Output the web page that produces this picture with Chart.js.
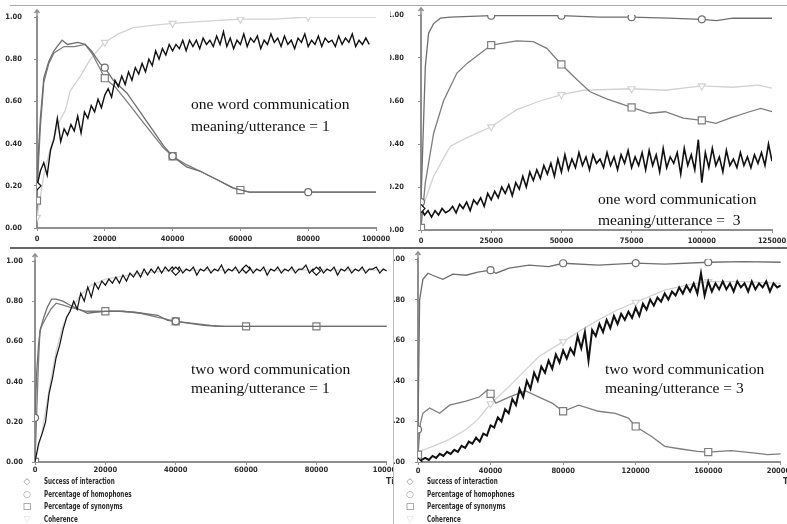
<!DOCTYPE html>
<html lang="en">
<head>
<meta charset="UTF-8">
<title>Lexicon simulation runs</title>
<script src="https://cdn.jsdelivr.net/npm/chart.js"></script>
<style>
    body { margin: 0; width: 787px; height: 524px; overflow: hidden; background: #fff; position: relative; }
    canvas { position: absolute; }
    .note { position: absolute; font-family: 'Liberation Serif', 'Times New Roman', serif; font-size: 15.5px; line-height: 16px; color: #111; white-space: pre; }
    .legend { position: absolute; font-family: 'Liberation Sans Narrow', 'DejaVu Sans Condensed', sans-serif; font-weight: bold; font-size: 8.5px; color: #2a2a2a; }
    .legend div { height: 12.5px; line-height: 12.5px; white-space: nowrap; }
    .legend .sym { display: inline-block; width: 14px; text-align: center; font-family: 'DejaVu Sans', sans-serif; font-weight: normal; font-size: 9px; margin-right: 9.5px; }
    .legend .txt { display: inline-block; transform: scaleX(0.74); transform-origin: left center; }
    .rule { position: absolute; }
    .time { position: absolute; overflow: hidden; font-family: 'Liberation Sans Narrow', 'DejaVu Sans Condensed', sans-serif; font-weight: bold; font-size: 8.5px; color: #333; white-space: nowrap; }
</style>
</head>
<body>
    <!-- panel rules -->
    <div class="rule" style="left:10px; top:5px; width:777px; height:1px; background:#aaa;"></div>
    <div class="rule" style="left:10px; top:247px; width:777px; height:2px; background:#666;"></div>
    <div class="rule" style="left:393px; top:249px; width:1px; height:275px; background:#bbb;"></div>

    <canvas id="tl" width="392" height="242" style="left:0px; top:6px;"></canvas>
    <canvas id="tr" width="397" height="242" style="left:390px; top:6px;"></canvas>
    <canvas id="bl" width="393" height="274" style="left:0px; top:250px;"></canvas>
    <canvas id="br" width="393" height="274" style="left:394px; top:250px;"></canvas>

    <div class="note" style="left:191px; top:96px;">one word communication</div>
    <div class="note" style="left:191px; top:118px;">meaning/utterance = 1</div>
    <div class="note" style="left:598px; top:191px;">one word communication</div>
    <div class="note" style="left:598px; top:212px;">meaning/utterance =  3</div>
    <div class="note" style="left:191px; top:361px;">two word communication</div>
    <div class="note" style="left:191px; top:380px;">meaning/utterance = 1</div>
    <div class="note" style="left:605px; top:361px;">two word communication</div>
    <div class="note" style="left:605px; top:380px;">meaning/utterance = 3</div>

    <div class="legend" style="left:20px; top:475px;">
        <div><span class="sym" style="color:#888">◇</span><span class="txt">Success of interaction</span></div>
        <div><span class="sym" style="color:#999">○</span><span class="txt">Percentage of homophones</span></div>
        <div><span class="sym" style="color:#666">□</span><span class="txt">Percentage of synonyms</span></div>
        <div><span class="sym" style="color:#ddd">▽</span><span class="txt">Coherence</span></div>
    </div>
    <div class="legend" style="left:403px; top:475px;">
        <div><span class="sym" style="color:#888">◇</span><span class="txt">Success of interaction</span></div>
        <div><span class="sym" style="color:#999">○</span><span class="txt">Percentage of homophones</span></div>
        <div><span class="sym" style="color:#666">□</span><span class="txt">Percentage of synonyms</span></div>
        <div><span class="sym" style="color:#ddd">▽</span><span class="txt">Coherence</span></div>
    </div>
    <div class="time" style="left:386px; top:476px; width:7px;">Time</div>
    <div class="time" style="left:783px; top:476px; width:4px;">Time</div>

<script>
// ---- one word, meaning/utterance = 1 (top left) ----
const tlSuccessStep = 1000;
const tlSuccess = [
    0.20, 0.27, 0.31, 0.25, 0.37, 0.42, 0.52, 0.41, 0.47, 0.44,
    0.49, 0.46, 0.53, 0.45, 0.55, 0.52, 0.58, 0.55, 0.61, 0.57,
    0.63, 0.66, 0.62, 0.70, 0.67, 0.72, 0.68, 0.74, 0.70, 0.76,
    0.73, 0.78, 0.74, 0.80, 0.77, 0.84, 0.80, 0.85, 0.82, 0.87,
    0.84, 0.87, 0.85, 0.89, 0.84, 0.89, 0.86, 0.89, 0.85, 0.90,
    0.87, 0.89, 0.86, 0.91, 0.87, 0.93, 0.86, 0.90, 0.85, 0.89,
    0.87, 0.92, 0.86, 0.90, 0.88, 0.91, 0.85, 0.89, 0.87, 0.92,
    0.88, 0.90, 0.86, 0.91, 0.87, 0.89, 0.85, 0.90, 0.88, 0.92,
    0.86, 0.89, 0.87, 0.91, 0.86, 0.90, 0.88, 0.89, 0.86, 0.91,
    0.87, 0.90, 0.88, 0.92, 0.86, 0.89, 0.87, 0.90, 0.87
];
const tlHomX = [0, 500, 1000, 2000, 3500, 5000, 7400, 9000, 12000, 14200, 16000, 18600, 20000, 22500, 26500, 30400, 34300, 37300, 40000, 44100, 48000, 53000, 57800, 60300, 62700, 80000, 100000];
const tlHomY = [0.21, 0.38, 0.52, 0.71, 0.79, 0.84, 0.89, 0.87, 0.88, 0.87, 0.84, 0.78, 0.76, 0.70, 0.64, 0.55, 0.46, 0.39, 0.34, 0.29, 0.27, 0.23, 0.19, 0.18, 0.17, 0.17, 0.17];
const tlSynX = [0, 500, 1000, 2000, 3500, 5000, 8000, 11000, 14200, 16500, 20000, 23000, 26500, 30400, 34300, 37300, 40000, 44100, 48000, 53000, 57800, 60000, 62700, 80000, 100000];
const tlSynY = [0.13, 0.33, 0.48, 0.69, 0.78, 0.83, 0.86, 0.86, 0.87, 0.82, 0.71, 0.67, 0.60, 0.52, 0.44, 0.38, 0.34, 0.30, 0.27, 0.23, 0.19, 0.18, 0.17, 0.17, 0.17];
const tlCohX = [0, 1000, 2000, 3500, 5000, 6500, 8400, 9800, 12800, 15700, 20000, 24000, 28400, 34000, 40000, 50000, 60000, 70000, 80000, 100000];
const tlCohY = [0.05, 0.15, 0.25, 0.35, 0.43, 0.50, 0.56, 0.65, 0.72, 0.80, 0.88, 0.92, 0.95, 0.96, 0.97, 0.98, 0.99, 0.99, 1.00, 1.00];

// ---- one word, meaning/utterance = 3 (top right) ----
const trSuccessStep = 1250;
const trSuccess = [
    0.10, 0.07, 0.09, 0.06, 0.09, 0.07, 0.10, 0.08, 0.09, 0.11,
    0.08, 0.12, 0.10, 0.13, 0.09, 0.14, 0.12, 0.15, 0.11, 0.17,
    0.14, 0.18, 0.15, 0.20, 0.17, 0.21, 0.16, 0.22, 0.19, 0.25,
    0.20, 0.27, 0.23, 0.28, 0.24, 0.30, 0.26, 0.31, 0.25, 0.33,
    0.27, 0.35, 0.28, 0.33, 0.29, 0.36, 0.30, 0.34, 0.28, 0.35,
    0.31, 0.33, 0.29, 0.36, 0.30, 0.34, 0.28, 0.35, 0.31, 0.37,
    0.29, 0.34, 0.30, 0.36, 0.28, 0.37, 0.30, 0.35, 0.27, 0.38,
    0.29, 0.34, 0.31, 0.36, 0.26, 0.38, 0.30, 0.35, 0.28, 0.42,
    0.22, 0.36, 0.29, 0.38, 0.30, 0.34, 0.27, 0.37, 0.30, 0.33,
    0.29, 0.36, 0.30, 0.34, 0.29, 0.35, 0.31, 0.36, 0.30, 0.40,
    0.32
];
const trHomX = [0, 1540, 2700, 4500, 6900, 10400, 25000, 50000, 63700, 75000, 88000, 100000, 105200, 111000, 125000];
const trHomY = [0.13, 0.76, 0.915, 0.96, 0.985, 0.99, 0.997, 0.997, 0.99, 0.99, 0.985, 0.98, 0.974, 0.985, 0.985];
const trSynX = [0, 1540, 4500, 8000, 12800, 16400, 25000, 34100, 40000, 44800, 50000, 55500, 60200, 66100, 75000, 81500, 87000, 93400, 100000, 105000, 110000, 117000, 121000, 125000];
const trSynY = [0.01, 0.22, 0.45, 0.60, 0.73, 0.775, 0.86, 0.88, 0.876, 0.845, 0.77, 0.70, 0.643, 0.61, 0.57, 0.543, 0.55, 0.52, 0.51, 0.496, 0.52, 0.55, 0.566, 0.55];
const trCohX = [0, 4500, 10400, 16400, 25000, 34100, 42400, 50000, 57800, 75000, 87000, 100000, 111000, 120000, 125000];
const trCohY = [0.085, 0.25, 0.39, 0.43, 0.48, 0.56, 0.60, 0.63, 0.65, 0.657, 0.65, 0.67, 0.664, 0.674, 0.66];

// ---- two word, meaning/utterance = 1 (bottom left) ----
const blSuccessStep = 1000;
const blSuccess = [
    0.00, 0.09, 0.14, 0.20, 0.34, 0.42, 0.52, 0.58, 0.66, 0.72,
    0.75, 0.80, 0.76, 0.84, 0.80, 0.87, 0.82, 0.89, 0.86, 0.90,
    0.88, 0.91, 0.89, 0.92, 0.89, 0.93, 0.90, 0.94, 0.92, 0.95,
    0.92, 0.96, 0.93, 0.96, 0.94, 0.97, 0.94, 0.97, 0.95, 0.97,
    0.95, 0.97, 0.94, 0.96, 0.95, 0.97, 0.93, 0.96, 0.95, 0.97,
    0.94, 0.96, 0.95, 0.98, 0.94, 0.96, 0.95, 0.97, 0.94, 0.96,
    0.96, 0.97, 0.94, 0.96, 0.95, 0.97, 0.93, 0.96, 0.95, 0.97,
    0.94, 0.96, 0.95, 0.97, 0.94, 0.96, 0.96, 0.98, 0.94, 0.96,
    0.95, 0.97, 0.94, 0.96, 0.95, 0.97, 0.93, 0.96, 0.95, 0.97,
    0.94, 0.96, 0.95, 0.97, 0.94, 0.96, 0.96, 0.97, 0.94, 0.96,
    0.95
];
const blHomX = [0, 500, 1000, 1500, 2500, 3500, 4700, 6000, 7900, 10000, 12500, 14900, 17000, 20000, 24000, 28400, 34900, 37700, 40000, 44000, 48000, 52000, 60000, 80000, 100000];
const blHomY = [0.22, 0.45, 0.58, 0.66, 0.72, 0.77, 0.81, 0.81, 0.80, 0.78, 0.76, 0.74, 0.745, 0.75, 0.75, 0.745, 0.73, 0.705, 0.70, 0.69, 0.68, 0.675, 0.675, 0.675, 0.675];
const blSynX = [0, 500, 1000, 1400, 2000, 3200, 4500, 6000, 8000, 9800, 12000, 14400, 17000, 20000, 25000, 30000, 35000, 40000, 45000, 50000, 54000, 60000, 80000, 100000];
const blSynY = [0.00, 0.25, 0.50, 0.65, 0.68, 0.72, 0.76, 0.79, 0.78, 0.77, 0.76, 0.75, 0.75, 0.75, 0.75, 0.74, 0.72, 0.70, 0.69, 0.68, 0.675, 0.675, 0.675, 0.675];
const blCohX = [0, 2000, 4000, 6000, 8000, 10000, 13000, 16000, 20000, 30000, 40000, 60000, 80000, 100000];
const blCohY = [0.00, 0.15, 0.36, 0.55, 0.68, 0.76, 0.83, 0.88, 0.91, 0.94, 0.955, 0.955, 0.955, 0.955];

// ---- two word, meaning/utterance = 3 (bottom right) ----
const brSuccessStep = 2000;
const brSuccess = [
    0.00, 0.01, 0.02, 0.01, 0.03, 0.02, 0.04, 0.03, 0.05, 0.04,
    0.06, 0.05, 0.08, 0.07, 0.10, 0.09, 0.12, 0.10, 0.14, 0.13,
    0.18, 0.17, 0.22, 0.20, 0.26, 0.24, 0.31, 0.28, 0.36, 0.32,
    0.40, 0.36, 0.44, 0.40, 0.47, 0.44, 0.50, 0.46, 0.53, 0.49,
    0.55, 0.51, 0.56, 0.53, 0.62, 0.56, 0.64, 0.50, 0.65, 0.62,
    0.68, 0.64, 0.70, 0.66, 0.72, 0.68, 0.73, 0.70, 0.74, 0.71,
    0.76, 0.72, 0.78, 0.75, 0.80, 0.77, 0.81, 0.79, 0.83, 0.80,
    0.84, 0.82, 0.86, 0.83, 0.87, 0.84, 0.88, 0.83, 0.93, 0.82,
    0.89, 0.84, 0.88, 0.85, 0.89, 0.85, 0.88, 0.84, 0.89, 0.86,
    0.88, 0.84, 0.89, 0.85, 0.88, 0.86, 0.89, 0.84, 0.88, 0.86,
    0.87
];
const brHomX = [0, 900, 2700, 5500, 8000, 13700, 19200, 26500, 33000, 40000, 43000, 50200, 61200, 72100, 80000, 99500, 120000, 136000, 160000, 180000, 200000];
const brHomY = [0.16, 0.80, 0.90, 0.93, 0.92, 0.90, 0.925, 0.92, 0.935, 0.945, 0.93, 0.955, 0.97, 0.962, 0.979, 0.97, 0.98, 0.975, 0.984, 0.987, 0.984];
const brSynX = [0, 1300, 2700, 6400, 11900, 17400, 26500, 33800, 38400, 40000, 42900, 50200, 59400, 66700, 74000, 80000, 88600, 99500, 108700, 116000, 120000, 128800, 136000, 145000, 154000, 160000, 172600, 186000, 192700, 200000];
const brSynY = [0.036, 0.19, 0.24, 0.266, 0.24, 0.28, 0.30, 0.32, 0.356, 0.336, 0.29, 0.32, 0.35, 0.32, 0.29, 0.25, 0.28, 0.25, 0.24, 0.216, 0.175, 0.126, 0.077, 0.064, 0.052, 0.049, 0.056, 0.044, 0.036, 0.04];
const brCohX = [0, 8200, 17000, 26500, 33000, 40000, 50000, 60000, 66700, 80000, 90000, 99500, 110000, 120000, 136000, 150000, 160000, 180000, 200000];
const brCohY = [0.05, 0.077, 0.11, 0.16, 0.21, 0.287, 0.37, 0.46, 0.52, 0.593, 0.65, 0.70, 0.75, 0.787, 0.847, 0.875, 0.889, 0.889, 0.88];

const tickFont = { family: "'Liberation Sans Narrow', 'DejaVu Sans Condensed', sans-serif", size: 7.5, weight: 'bold' };
const axisGray = '#8f8f8f';

function pts(xs, ys) { return xs.map((x, i) => ({ x: x, y: ys[i] })); }
function stepPts(step, ys) { return ys.map((y, i) => ({ x: i * step, y: y })); }

function series(points, color, width, style, radius, marks, rot) {
    return {
        data: points,
        borderColor: color,
        borderWidth: width,
        backgroundColor: color,
        pointStyle: style,
        pointRotation: rot || 0,
        pointRadius: ctx => (ctx.raw && marks.includes(ctx.raw.x)) ? radius : 0,
        pointBorderColor: color,
        pointBackgroundColor: '#fff',
        pointBorderWidth: 1.2,
        pointHoverRadius: 0,
        tension: 0,
        fill: false
    };
}

// small arrow on top of the y axis
const axisArrow = {
    id: 'axisArrow',
    afterDraw(chart) {
        const ctx = chart.ctx, a = chart.chartArea;
        ctx.save();
        ctx.strokeStyle = axisGray;
        ctx.lineWidth = 1.5;
        ctx.beginPath();
        ctx.moveTo(a.left, a.top);
        ctx.lineTo(a.left, a.top - 7);
        ctx.moveTo(a.left - 2.5, a.top - 4);
        ctx.lineTo(a.left, a.top - 7);
        ctx.lineTo(a.left + 2.5, a.top - 4);
        ctx.stroke();
        ctx.restore();
    }
};

function panel(id, p) {
    new Chart(document.getElementById(id), {
        type: 'line',
        data: { datasets: p.datasets },
        options: {
            responsive: false,
            animation: false,
            events: [],
            layout: { padding: { top: p.padTop, right: p.padRight, left: 0, bottom: 0 } },
            plugins: { legend: { display: false }, tooltip: { enabled: false } },
            scales: {
                x: {
                    type: 'linear', min: 0, max: p.xMax,
                    grid: { drawOnChartArea: false, color: axisGray, tickLength: 3 },
                    border: { color: axisGray, width: 2 },
                    ticks: { stepSize: p.xStep, autoSkip: false, maxRotation: 0, padding: p.xTickPad,
                             color: '#2a2a2a', font: tickFont, callback: v => String(v) },
                    afterFit: s => { s.height = p.xHeight; s.paddingLeft = 0; s.paddingRight = 0; }
                },
                y: {
                    min: 0, max: 1,
                    grid: { drawOnChartArea: false, color: axisGray, tickLength: 3 },
                    border: { color: axisGray, width: 2 },
                    ticks: { stepSize: 0.2, padding: p.yTickPad, color: '#2a2a2a', font: tickFont,
                             callback: v => v.toFixed(2) },
                    afterFit: s => { s.width = p.yWidth; s.paddingTop = 0; s.paddingBottom = 0; }
                }
            }
        },
        plugins: [axisArrow]
    });
}

const cBlack = '#111', cHom = '#6e6e6e', cSyn = '#7d7d7d', cCoh = '#d2d2d2';

panel('tl', {
    xMax: 100000, xStep: 20000, yWidth: 37, yTickPad: 12, xHeight: 20, xTickPad: 4, padTop: 11, padRight: 16,
    datasets: [
        series(stepPts(tlSuccessStep, tlSuccess), cBlack, 1.4, 'rectRot', 4, [0]),
        series(pts(tlHomX, tlHomY), cHom, 1.3, 'circle', 3.5, [20000, 40000, 80000]),
        series(pts(tlSynX, tlSynY), cSyn, 1.3, 'rect', 5, [0, 20000, 40000, 60000]),
        series(pts(tlCohX, tlCohY), cCoh, 1.3, 'triangle', 4, [0, 20000, 40000, 60000, 80000], 180)
    ]
});

panel('tr', {
    xMax: 125000, xStep: 25000, yWidth: 31, yTickPad: 14, xHeight: 18, xTickPad: 4, padTop: 9, padRight: 15,
    datasets: [
        series(stepPts(trSuccessStep, trSuccess), cBlack, 1.6, 'rectRot', 4, [0]),
        series(pts(trHomX, trHomY), cHom, 1.3, 'circle', 3.5, [0, 25000, 50000, 75000, 100000]),
        series(pts(trSynX, trSynY), cSyn, 1.3, 'rect', 5, [0, 25000, 50000, 75000, 100000]),
        series(pts(trCohX, trCohY), cCoh, 1.3, 'triangle', 4, [25000, 50000, 75000, 100000], 180)
    ]
});

panel('bl', {
    xMax: 100000, xStep: 20000, yWidth: 35, yTickPad: 9, xHeight: 62, xTickPad: 1, padTop: 11, padRight: 0,
    datasets: [
        series(stepPts(blSuccessStep, blSuccess), cBlack, 1.2, 'rectRot', 4, [40000, 60000, 80000]),
        series(pts(blHomX, blHomY), cHom, 1.3, 'circle', 3.5, [0, 40000]),
        series(pts(blSynX, blSynY), cSyn, 1.3, 'rect', 5, [0, 20000, 40000, 60000, 80000]),
        series(pts(blCohX, blCohY), cCoh, 1.3, 'triangle', 4, [], 180)
    ]
});

panel('br', {
    xMax: 200000, xStep: 40000, yWidth: 24, yTickPad: 10, xHeight: 62, xTickPad: 2, padTop: 9, padRight: 4,
    datasets: [
        series(stepPts(brSuccessStep, brSuccess), cBlack, 2, 'rectRot', 4, [0]),
        series(pts(brHomX, brHomY), cHom, 1.3, 'circle', 3.5, [0, 40000, 80000, 120000, 160000]),
        series(pts(brSynX, brSynY), cSyn, 1.3, 'rect', 5, [0, 40000, 80000, 120000, 160000]),
        series(pts(brCohX, brCohY), cCoh, 1.3, 'triangle', 4, [40000, 80000, 120000, 160000], 180)
    ]
});
</script>
</body>
</html>
